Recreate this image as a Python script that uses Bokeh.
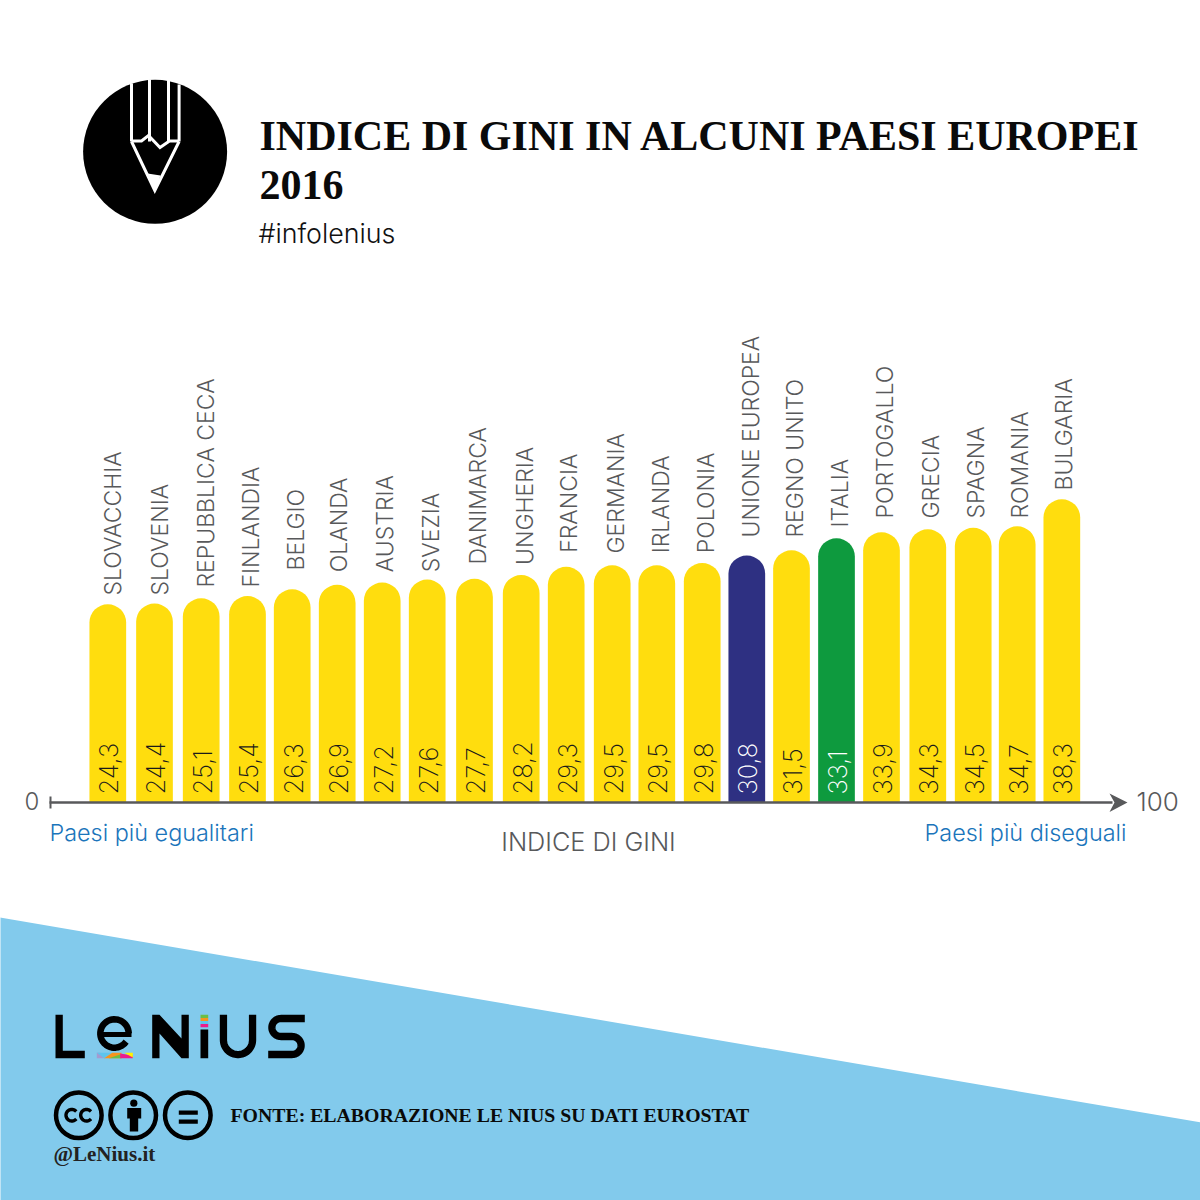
import numpy as np
from bokeh.core.properties import value
from bokeh.embed import file_html
from bokeh.models import ColumnDataSource, Range1d
from bokeh.plotting import figure
from bokeh.resources import INLINE

# ---- data
countries = ["SLOVACCHIA", "SLOVENIA", "REPUBBLICA CECA", "FINLANDIA", "BELGIO", "OLANDA", "AUSTRIA", "SVEZIA",
             "DANIMARCA", "UNGHERIA", "FRANCIA", "GERMANIA", "IRLANDA", "POLONIA", "UNIONE EUROPEA", "REGNO UNITO",
             "ITALIA", "PORTOGALLO", "GRECIA", "SPAGNA", "ROMANIA", "BULGARIA"]
gini = [24.3, 24.4, 25.1, 25.4, 26.3, 26.9, 27.2, 27.6, 27.7, 28.2, 29.3, 29.5, 29.5, 29.8, 30.8, 31.5, 33.1, 33.9,
        34.3, 34.5, 34.7, 38.3]
highlight = {"UNIONE EUROPEA": "#2E3082", "ITALIA": "#0E9A3E"}

# ---- hand-placed layout of the original (px)
bar_nudge = [0, 1.27, 2.54, 3.41, 2.68, 2.25, 1.82, 1.39, 3.26, 4.53, 4.1, 4.67, 3.84, 3.81, 2.98, 2.25, 1.82, 1.39,
             2.26, 2.23, 0.8, 0]
label_dx = [5, 5, 4.3, 3.3, 3.3, 1.6, 3, 3.3, 3.3, 3.3, 3, 3.3, 3.7, 3.3, 3.7, 3.3, 3.3, 3.3, 2.7, 2.3, 2.3, 1.7]
label_gap = [8.75, 8, 10.75, 8.5, 18.75, 12.5, 10.3, 7.3, 14.25, 10, 14, 11.75, 12, 9.8, 18, 12.75, 10.75, 13.75,
             10.75, 9.25, 7.75, 8.75]

SLOT = 45.43
X0 = 107.3
PX_PER_UNIT = 7.5
Y0 = 786.0
AXIS_Y = 802.0
BAR_W = 36.7

SANS = value("Inter")
LIGHT = value("Inter Light")
THIN = value("Inter ExtraLight")
SERIF = value("Liberation Serif")
GREY = "#58595B"
BLUE_TXT = "#1B75BB"

p = figure(width=1200, height=1200, output_backend="svg", toolbar_location=None,
           x_range=Range1d(0, 1200), y_range=Range1d(1200, 0),
           min_border=0, outline_line_color=None, background_fill_color="white", border_fill_color="white")
p.styles = {"position": "absolute", "left": "0", "top": "0"}
p.xaxis.visible = False
p.yaxis.visible = False
p.grid.visible = False
p.extra_x_ranges["slot"] = Range1d(-X0 / SLOT, (1200 - X0) / SLOT)
p.extra_y_ranges["gini"] = Range1d((Y0 - 1200) / PX_PER_UNIT, Y0 / PX_PER_UNIT)

# ---- background wedge
p.patch([-5, 1205, 1205, -5], [916.2, 1122.8, 1205, 1205], fill_color="#82CAEC", line_color=None)

# ---- bars
idx = np.arange(len(countries))
xs = idx + np.array(bar_nudge) / SLOT
src = ColumnDataSource(dict(
    x=xs, top=gini, bottom=[(Y0 - AXIS_Y) / PX_PER_UNIT] * len(gini),
    country=countries,
    color=[highlight.get(c, "#FFDD0E") for c in countries],
    val=[f"{v:.1f}".replace(".", ",") for v in gini],
    valcolor=["#FFFFFF" if c in highlight else "#1A1A1A" for c in countries],
    lab_dy=[-g for g in label_gap],
    lab_dx=label_dx,
    val_y=[(Y0 - 794) / PX_PER_UNIT] * len(gini),
))
p.vbar(x="x", top="top", bottom="bottom", width=BAR_W / SLOT, fill_color="color", line_color=None, source=src,
       border_radius=(19, 19, 0, 0), x_range_name="slot", y_range_name="gini")

# Bokeh's svg text is centred on the capitals with this baseline, so offsets below aim at the glyph centre.
p.text(x="x", y="top", text="country", angle=np.pi / 2, x_offset="lab_dx", y_offset="lab_dy", source=src,
       text_font=LIGHT, text_font_size="23px", text_color=GREY, text_align="left", text_baseline="alphabetic",
       x_range_name="slot", y_range_name="gini")
p.text(x="x", y="val_y", text="val", angle=np.pi / 2, x_offset=1, source=src,
       text_font=THIN, text_font_size="25.5px", text_color="valcolor", text_align="left", text_baseline="alphabetic",
       x_range_name="slot", y_range_name="gini")

# ---- axis with arrow
p.segment(x0=49, y0=AXIS_Y, x1=1112, y1=AXIS_Y, line_color=GREY, line_width=2.4)
p.segment(x0=50, y0=796, x1=50, y1=808, line_color=GREY, line_width=2)
p.patch([1109, 1127, 1109, 1114], [793, 802, 811.5, 802], fill_color=GREY, line_color=None)


def txt(x, base, s, size, color="#111111", font=SANS, align="left", style="normal"):
    """base = baseline in page px; the svg text sits about .35 em below the given y."""
    p.text(x=[x], y=[base - 0.35 * size], text=[s], text_font=font, text_font_size=f"{size}px", text_color=color,
           text_align=align, text_baseline="alphabetic", text_font_style=style)


txt(24, 809, "0", 24, GREY, LIGHT)
txt(1136, 810, "100", 26, GREY, LIGHT)
txt(49, 840, "Paesi più egualitari", 23.4, BLUE_TXT, LIGHT)
txt(1126, 840, "Paesi più diseguali", 23.4, BLUE_TXT, LIGHT, align="right")
txt(588, 850, "INDICE DI GINI", 25.3, GREY, LIGHT, align="center")

# ---- title block
txt(259, 150, "INDICE DI GINI IN ALCUNI PAESI EUROPEI", 42, "#0A0A0A", SERIF, style="bold")
txt(259, 199, "2016", 42, "#0A0A0A", SERIF, style="bold")
txt(258, 242, "#infolenius", 26.8, "#111111", LIGHT)
txt(230, 1121.5, "FONTE: ELABORAZIONE LE NIUS SU DATI EUROSTAT", 19.8, "#0A0A0A", SERIF, style="bold")
txt(53, 1160.5, "@LeNius.it", 21, "#222222", SERIF, style="bold")


# ---- pencil badge
def arc(cx, cy, r, a0, a1, n=40):
    t = np.radians(np.linspace(a0, a1, n))
    return list(cx + r * np.cos(t)), list(cy + r * np.sin(t))


p.circle(x=[154.6], y=[151.3], radius=72, fill_color="#000000", line_color=None)
for xx, y0 in ((131, 83), (149, 79), (168, 80), (178.6, 84)):
    p.segment(x0=xx, y0=y0, x1=xx, y1=141, line_color="white", line_width=3)
p.line([131, 141, 148, 159.5, 169, 178.6], [140.5, 140.5, 135, 147, 140.5, 140.5], line_color="white", line_width=3,
       line_join="miter")
p.line([131, 154.3, 178.6], [141, 190, 141], line_color="white", line_width=3, line_join="miter")
p.patch([147, 160, 154.3], [173, 175, 192], fill_color="white", line_color=None)

# ---- logo
INK = "#000000"
STROKE = 7.3
p.patch([55, 62.3, 62.3, 84.3, 84.3, 55], [1014.3, 1014.3, 1050.3, 1050.3, 1057.7, 1057.7], fill_color=INK,
        line_color=None)
ex, ey = arc(114, 1033, 14.2, 35, 360)
p.line(ex, ey, line_color=INK, line_width=6.5)
p.segment(x0=100, y0=1034, x1=131, y1=1034, line_color=INK, line_width=5)
# colour band under the e, in 3x crop coordinates of the logo
band = [("#A49BD0", [154, 154, 180, 165], [142, 158, 158, 142]),
        ("#5DC4EE", [154, 200, 176], [142, 142, 158]),
        ("#F7941D", [176, 200, 228, 228], [158, 142, 142, 158]),
        ("#6CBE45", [190, 226, 228], [158, 146, 158]),
        ("#EC1C8C", [224, 262, 262, 224], [144, 150, 158, 158]),
        ("#FFF200", [236, 262, 262], [142, 142, 156])]
for col, bx, by in band:
    p.patch([45 + v / 3 for v in bx], [1005 + v / 3 for v in by], fill_color=col, line_color=None)
p.patch([151.7, 159, 181, 181, 188.3, 188.3, 181, 159, 159, 151.7],
        [1014.3, 1014.3, 1038, 1014.3, 1014.3, 1057.7, 1057.7, 1033, 1057.7, 1057.7], fill_color=INK, line_color=None)
p.quad(left=[200], right=[207.7], top=[1029], bottom=[1057.7], fill_color=INK, line_color=None)
for cols, (y_a, y_b) in (("#6CBE45", (1014.3, 1017.5)), ("#F7941D", (1017.5, 1020.5)), ("#5DC4EE", (1020.5, 1023.5)),
                         ("#EC1C8C", (1023.5, 1026.7))):
    p.quad(left=[200], right=[207.7], top=[y_a], bottom=[y_b], fill_color=cols, line_color=None)
ux, uy = arc(237.5, 1039.5, 14.55, 180, 0)
p.line([222.95] + ux + [252.05], [1014.3] + uy + [1014.3], line_color=INK, line_width=STROKE)
sx1, sy1 = arc(280.4, 1027, 9, 270, 90)
sx2, sy2 = arc(291.6, 1045, 9, -90, 90)
p.line([304.3] + sx1 + sx2 + [267.7], [1018] + sy1 + sy2 + [1054], line_color=INK, line_width=STROKE)

# ---- CC badges
for cx in (78.3, 132.7, 187.3):
    p.circle(x=[cx], y=[1114.7], radius=22.8, fill_color=None, line_color=INK, line_width=4.5)
for cx in (71.3, 86):
    cxs, cys = arc(cx, 1114.7, 5.8, 40, 320)
    p.line(cxs, cys, line_color=INK, line_width=3.4)
p.circle(x=[133.3], y=[1102.7], radius=3.6, fill_color=INK, line_color=None)
p.patch([126.7, 140.7, 140.7, 137.7, 137.7, 129.3, 129.3, 126.7],
        [1107.5, 1107.5, 1118, 1118, 1131, 1131, 1118, 1118], fill_color=INK, line_color=None)
p.quad(left=[178.3, 178.3], right=[197.3, 197.3], top=[1110, 1119], bottom=[1114.3, 1123.3], fill_color=INK,
       line_color=None)

html = file_html(p, INLINE)
open("out.html", "w").write(html)
